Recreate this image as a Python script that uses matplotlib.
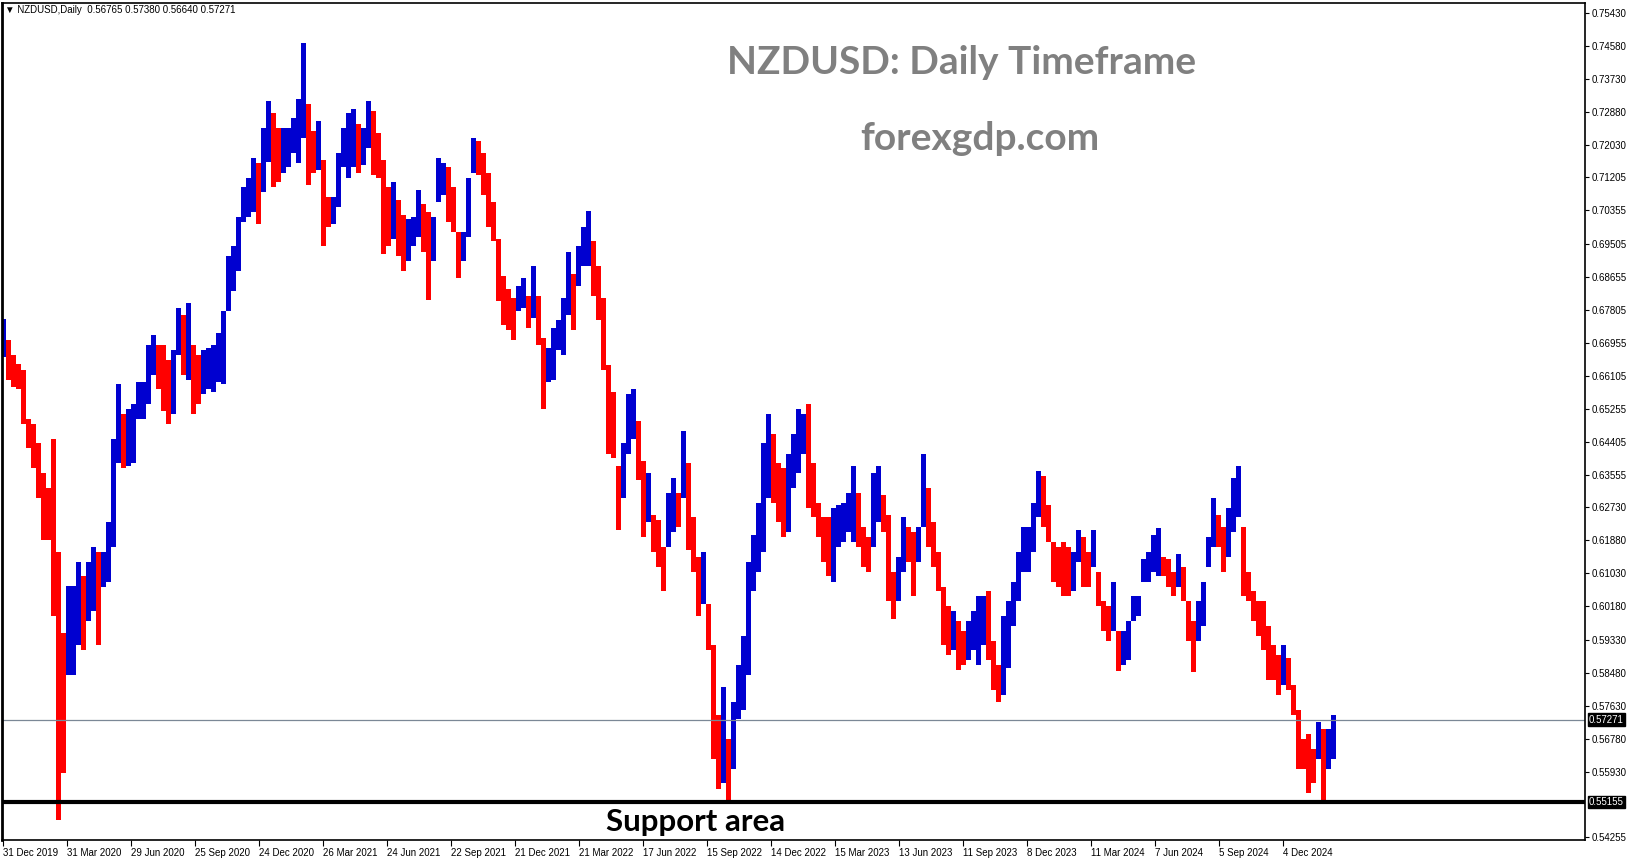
import numpy as np
import matplotlib
matplotlib.use('Agg')
import matplotlib.pyplot as plt
from matplotlib.transforms import blended_transform_factory

# weekly high / low, one entry per week (first week ends 3 Jan 2020)
week_high = [
    0.6757, 0.6702, 0.6664, 0.6640, 0.6626, 0.6500, 0.6487, 0.6437, 0.6361, 0.6323,
    0.6449, 0.6158, 0.5950, 0.6070, 0.6070, 0.6133, 0.6095, 0.6133, 0.6171, 0.6158,
    0.6158, 0.6234, 0.6449, 0.6589, 0.6513, 0.6525, 0.6538, 0.6595, 0.6595, 0.6690,
    0.6715, 0.6690, 0.6690, 0.6652, 0.6677, 0.6785, 0.6766, 0.6797, 0.6690, 0.6664,
    0.6677, 0.6683, 0.6690, 0.6721, 0.6778, 0.6918, 0.6943, 0.7019, 0.7095, 0.7120,
    0.7171, 0.7158, 0.7247, 0.7316, 0.7285, 0.7247, 0.7247, 0.7247, 0.7272, 0.7323,
    0.7465, 0.7310, 0.7240, 0.7266, 0.7165, 0.7070, 0.7070, 0.7184, 0.7247, 0.7285,
    0.7297, 0.7259, 0.7247, 0.7316, 0.7291, 0.7234, 0.7165, 0.7095, 0.7108, 0.7063,
    0.7025, 0.7013, 0.7019, 0.7089, 0.7051, 0.7032, 0.7019, 0.7171, 0.7158, 0.7146,
    0.7095, 0.6981, 0.6981, 0.7120, 0.7222, 0.7215, 0.7184, 0.7133, 0.7057, 0.6962,
    0.6867, 0.6835, 0.6810, 0.6842, 0.6861, 0.6816, 0.6892, 0.6816, 0.6709, 0.6683,
    0.6734, 0.6753, 0.6810, 0.6930, 0.6873, 0.6943, 0.6994, 0.7034, 0.6956, 0.6892,
    0.6810, 0.6639, 0.6570, 0.6380, 0.6437, 0.6563, 0.6576, 0.6494, 0.6392, 0.6361,
    0.6253, 0.6240, 0.6171, 0.6310, 0.6348, 0.6310, 0.6468, 0.6386, 0.6247, 0.6145,
    0.6158, 0.6025, 0.5918, 0.5740, 0.5810, 0.5677, 0.5772, 0.5867, 0.5943, 0.6133,
    0.6202, 0.6285, 0.6437, 0.6513, 0.6462, 0.6386, 0.6373, 0.6411, 0.6462, 0.6525,
    0.6513, 0.6538, 0.6386, 0.6285, 0.6247, 0.6247, 0.6272, 0.6278, 0.6285, 0.6310,
    0.6380, 0.6310, 0.6221, 0.6196, 0.6361, 0.6380, 0.6304, 0.6253, 0.6107, 0.6145,
    0.6247, 0.6221, 0.6209, 0.6221, 0.6411, 0.6323, 0.6234, 0.6158, 0.6069, 0.6019,
    0.6006, 0.5981, 0.5956, 0.5981, 0.6006, 0.6044, 0.6044, 0.6057, 0.5930, 0.5867,
    0.5994, 0.6031, 0.6082, 0.6158, 0.6221, 0.6221, 0.6285, 0.6367, 0.6354, 0.6278,
    0.6183, 0.6171, 0.6183, 0.6171, 0.6158, 0.6215, 0.6196, 0.6158, 0.6215, 0.6107,
    0.6031, 0.6019, 0.6082, 0.5956, 0.5956, 0.5981, 0.6044, 0.6044, 0.6139, 0.6158,
    0.6202, 0.6219, 0.6145, 0.6139, 0.6107, 0.6152, 0.6120, 0.6031, 0.5981, 0.6031,
    0.6082, 0.6196, 0.6297, 0.6253, 0.6221, 0.6272, 0.6348, 0.6379, 0.6221, 0.6107,
    0.6057, 0.6031, 0.6031, 0.5968, 0.5918, 0.5892, 0.5918, 0.5886, 0.5816, 0.5753,
    0.5677, 0.5690, 0.5652, 0.5722, 0.5702, 0.5702, 0.5738,
]
week_low = [
    0.6660, 0.6601, 0.6582, 0.6576, 0.6487, 0.6424, 0.6373, 0.6297, 0.6190, 0.6190,
    0.5994, 0.5469, 0.5589, 0.5842, 0.5842, 0.5918, 0.5905, 0.5981, 0.6006, 0.5918,
    0.6069, 0.6082, 0.6171, 0.6386, 0.6373, 0.6380, 0.6386, 0.6500, 0.6500, 0.6538,
    0.6614, 0.6576, 0.6519, 0.6487, 0.6513, 0.6664, 0.6614, 0.6601, 0.6513, 0.6538,
    0.6563, 0.6576, 0.6570, 0.6595, 0.6589, 0.6778, 0.6829, 0.6880, 0.7006, 0.7019,
    0.7032, 0.7000, 0.7082, 0.7160, 0.7095, 0.7108, 0.7133, 0.7146, 0.7184, 0.7158,
    0.7222, 0.7101, 0.7133, 0.7139, 0.6943, 0.6994, 0.7000, 0.7044, 0.7146, 0.7120,
    0.7146, 0.7133, 0.7152, 0.7196, 0.7127, 0.7120, 0.6924, 0.6943, 0.6962, 0.6918,
    0.6880, 0.6905, 0.6943, 0.6968, 0.6930, 0.6806, 0.6905, 0.7057, 0.7076, 0.7006,
    0.6981, 0.6861, 0.6905, 0.6968, 0.7133, 0.7127, 0.7076, 0.6994, 0.6956, 0.6804,
    0.6740, 0.6728, 0.6702, 0.6778, 0.6785, 0.6734, 0.6760, 0.6690, 0.6525, 0.6595,
    0.6601, 0.6677, 0.6664, 0.6766, 0.6728, 0.6842, 0.6892, 0.6892, 0.6816, 0.6753,
    0.6626, 0.6411, 0.6399, 0.6215, 0.6297, 0.6411, 0.6449, 0.6342, 0.6196, 0.6234,
    0.6158, 0.6120, 0.6057, 0.6171, 0.6209, 0.6221, 0.6297, 0.6164, 0.6107, 0.5994,
    0.6025, 0.5905, 0.5626, 0.5550, 0.5563, 0.5512, 0.5601, 0.5728, 0.5753, 0.5842,
    0.6057, 0.6107, 0.6158, 0.6297, 0.6285, 0.6234, 0.6196, 0.6209, 0.6323, 0.6361,
    0.6411, 0.6272, 0.6247, 0.6196, 0.6133, 0.6095, 0.6082, 0.6171, 0.6183, 0.6209,
    0.6183, 0.6171, 0.6120, 0.6107, 0.6171, 0.6234, 0.6209, 0.6032, 0.5985, 0.6032,
    0.6107, 0.6133, 0.6044, 0.6133, 0.6221, 0.6171, 0.6120, 0.6057, 0.5918, 0.5892,
    0.5905, 0.5854, 0.5867, 0.5880, 0.5905, 0.5867, 0.5918, 0.5880, 0.5804, 0.5772,
    0.5791, 0.5861, 0.5968, 0.6031, 0.6107, 0.6107, 0.6158, 0.6247, 0.6221, 0.6183,
    0.6082, 0.6069, 0.6044, 0.6044, 0.6057, 0.6133, 0.6069, 0.6069, 0.6120, 0.6019,
    0.5956, 0.5930, 0.5956, 0.5851, 0.5867, 0.5880, 0.5981, 0.5994, 0.6082, 0.6082,
    0.6107, 0.6095, 0.6095, 0.6069, 0.6044, 0.6069, 0.6031, 0.5930, 0.5850, 0.5930,
    0.5968, 0.6120, 0.6171, 0.6171, 0.6107, 0.6145, 0.6209, 0.6247, 0.6044, 0.6031,
    0.5981, 0.5943, 0.5905, 0.5829, 0.5829, 0.5791, 0.5816, 0.5804, 0.5740, 0.5601,
    0.5601, 0.5538, 0.5563, 0.5626, 0.5516, 0.5601, 0.5626,
]

price_ticks = [0.75430, 0.74580, 0.73730, 0.72880, 0.72030, 0.71205, 0.70355, 0.69505,
               0.68655, 0.67805, 0.66955, 0.66105, 0.65255, 0.64405, 0.63555, 0.62730,
               0.61880, 0.61030, 0.60180, 0.59330, 0.58480, 0.57630, 0.56780, 0.55930,
               0.54255]
date_labels = ['31 Dec 2019', '31 Mar 2020', '29 Jun 2020', '25 Sep 2020', '24 Dec 2020',
               '26 Mar 2021', '24 Jun 2021', '22 Sep 2021', '21 Dec 2021', '21 Mar 2022',
               '17 Jun 2022', '15 Sep 2022', '14 Dec 2022', '15 Mar 2023', '13 Jun 2023',
               '11 Sep 2023', '8 Dec 2023', '11 Mar 2024', '7 Jun 2024', '5 Sep 2024',
               '4 Dec 2024']
support_level = 0.55155
last_price = 0.57271
header = 'NZDUSD,Daily  0.56765 0.57380 0.56640 0.57271'

plt.rcParams['font.family'] = ['Liberation Sans', 'DejaVu Sans']

W, H = 1631, 861
fig = plt.figure(figsize=(W / 100, H / 100), dpi=100)
ax = fig.add_axes([2 / W, 21 / H, 1583 / W, 837 / H])

hi = np.array(week_high)
lo = np.array(week_low)
mid = (hi + lo) / 2
up = np.r_[True, mid[1:] >= mid[:-1]]
colors = np.where(up, '#0000d0', '#ff0000')
x = np.arange(len(hi)) * 5 + 1   # one daily bar = one pixel, five per week
ax.bar(x, hi - lo, bottom=lo, width=5, color=colors, linewidth=0)

ax.axhline(last_price, color='#7b8896', lw=0.9, zorder=1)
ax.axhline(support_level, color='black', lw=3, zorder=3)

ax.set_xlim(-1, 1582)
ax.set_ylim(0.54178, 0.75687)

ax.yaxis.tick_right()
ax.set_yticks(price_ticks)
ax.set_yticklabels([f'{v:.5f}' for v in price_ticks])
ax.tick_params(axis='y', length=3, width=0.8, pad=2, labelsize=7)

ax.set_xticks(np.arange(len(date_labels)) * 64)
ax.set_xticklabels(date_labels)
for lbl in ax.get_xticklabels():
    lbl.set_horizontalalignment('left')
ax.tick_params(axis='x', length=4, width=0.8, pad=2, labelsize=7)

for sp in ax.spines.values():
    sp.set_linewidth(1.2)
    sp.set_color('black')
ax.spines['left'].set_linewidth(2)

trans = blended_transform_factory(ax.transAxes, ax.transData)
for val in (last_price, support_level):
    ax.text(1.0025, val, f'{val:.5f}', transform=trans, color='white', fontsize=7,
            va='center', ha='left',
            bbox=dict(facecolor='black', edgecolor='black', pad=1.0))

fig.text(5 / W, 1 - 10 / H, '\u25bc ' + header, fontsize=7, va='center', ha='left',
         family=['Liberation Sans', 'DejaVu Sans'])
fig.text(962 / W, 1 - 63 / H, 'NZDUSD: Daily Timeframe', family='Lato', weight='bold',
         fontsize=28, color='#808080', ha='center', va='center')
fig.text(980 / W, 1 - 139 / H, 'forexgdp.com', family='Lato', weight='bold',
         fontsize=28, color='#808080', ha='center', va='center')
fig.text(696 / W, 1 - 822 / H, 'Support area', family='Lato', weight='bold',
         fontsize=22.5, color='black', ha='center', va='center')

fig.savefig('out.png', dpi=100)
